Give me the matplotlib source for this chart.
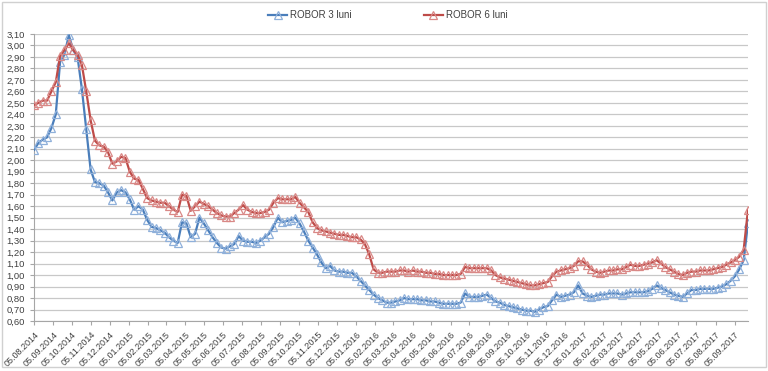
import matplotlib
matplotlib.use("Agg")
import matplotlib.pyplot as plt
import pandas as pd
import numpy as np

start_date = "2014-08-05"
n_weeks = 165

robor_3m = [
    2.09, 2.15, 2.18, 2.20, 2.28, 2.40, 2.86, 2.92, 3.09, 2.96,
    2.90, 2.62, 2.27, 1.92, 1.81, 1.80, 1.78, 1.72, 1.65, 1.72,
    1.74, 1.72, 1.66, 1.57, 1.60, 1.57, 1.48, 1.42, 1.41, 1.39,
    1.37, 1.33, 1.30, 1.28, 1.46, 1.45, 1.33, 1.36, 1.50, 1.45,
    1.39, 1.33, 1.28, 1.24, 1.23, 1.25, 1.27, 1.34, 1.30, 1.29,
    1.29, 1.28, 1.30, 1.33, 1.36, 1.42, 1.50, 1.46, 1.47, 1.48,
    1.50, 1.45, 1.38, 1.30, 1.24, 1.18, 1.11, 1.06, 1.08, 1.04,
    1.03, 1.03, 1.02, 1.02, 0.99, 0.95, 0.91, 0.87, 0.83, 0.80,
    0.78, 0.76, 0.76, 0.77, 0.78, 0.80, 0.79, 0.79, 0.79, 0.78,
    0.78, 0.77, 0.77, 0.76, 0.75, 0.75, 0.75, 0.75, 0.76, 0.84,
    0.81, 0.81, 0.81, 0.82, 0.83, 0.80, 0.77, 0.76, 0.74, 0.73,
    0.72, 0.71, 0.70, 0.69, 0.69, 0.68, 0.70, 0.72, 0.73, 0.78,
    0.83, 0.81, 0.82, 0.83, 0.85, 0.91, 0.84, 0.82, 0.81, 0.82,
    0.83, 0.83, 0.84, 0.84, 0.84, 0.83, 0.84, 0.85, 0.85, 0.85,
    0.85, 0.86, 0.88, 0.91, 0.89, 0.87, 0.85, 0.83, 0.82, 0.81,
    0.84, 0.87, 0.87, 0.88, 0.88, 0.88, 0.88, 0.89, 0.90, 0.92,
    0.95, 0.99, 1.05, 1.13, 1.45,
]

robor_6m = [
    2.48, 2.50, 2.52, 2.52, 2.60, 2.68, 2.91, 2.96, 3.02, 2.96,
    2.92, 2.83, 2.60, 2.35, 2.17, 2.13, 2.12, 2.07, 1.97, 1.99,
    2.03, 2.02, 1.90, 1.84, 1.83, 1.75, 1.67, 1.65, 1.64, 1.63,
    1.63, 1.60, 1.57, 1.55, 1.70, 1.69, 1.56, 1.60, 1.64, 1.62,
    1.60, 1.57, 1.54, 1.52, 1.51, 1.51, 1.54, 1.57, 1.61, 1.57,
    1.55, 1.54, 1.54, 1.55, 1.57, 1.63, 1.67, 1.66, 1.66, 1.66,
    1.68, 1.63, 1.59, 1.55, 1.46, 1.41, 1.39, 1.38, 1.37, 1.36,
    1.35, 1.35, 1.34, 1.33, 1.33, 1.31, 1.27, 1.18, 1.05, 1.02,
    1.02, 1.03, 1.03, 1.03, 1.04, 1.04, 1.03, 1.04, 1.03, 1.03,
    1.02, 1.02, 1.01, 1.01, 1.00, 1.00, 1.00, 1.00, 1.01, 1.07,
    1.06, 1.06, 1.06, 1.06, 1.06, 1.04, 1.00, 0.98, 0.97, 0.96,
    0.95, 0.94, 0.93, 0.92, 0.91, 0.91, 0.92, 0.93, 0.94, 0.99,
    1.03, 1.04, 1.05, 1.06, 1.08, 1.12, 1.12, 1.09, 1.05, 1.03,
    1.02, 1.03, 1.04, 1.04, 1.05, 1.05, 1.07, 1.09, 1.08, 1.08,
    1.09, 1.10, 1.11, 1.13, 1.10, 1.07, 1.05, 1.03, 1.01, 1.00,
    1.02, 1.03, 1.03, 1.04, 1.04, 1.04, 1.05, 1.06, 1.07, 1.09,
    1.11, 1.13, 1.16, 1.22, 1.57,
]

series_names = ["ROBOR 3 luni", "ROBOR 6 luni"]

dates = pd.date_range(start_date, periods=n_weeks, freq="7D")
tick_dates = pd.date_range("2014-08-01", "2017-09-01", freq="MS") + pd.Timedelta(days=4)

plt.rcParams["font.family"] = ["Liberation Sans", "DejaVu Sans"]

fig = plt.figure(figsize=(7.68, 3.71), dpi=100)
ax = fig.add_axes([34 / 768, 1 - 321 / 371, 714 / 768, 287 / 371])

line_cols = ["#4A7EBB", "#BE4B48"]
mk_cols = ["#8FB0DA", "#D98886"]
for vals, name, lc, mc in zip([robor_3m, robor_6m], series_names, line_cols, mk_cols):
    ax.plot(dates, vals, color=lc, lw=1.6, marker="^", markersize=5.5,
            markerfacecolor="none", markeredgecolor=mc, markeredgewidth=0.9,
            label=name, zorder=3)

ax.set_ylim(0.60, 3.10)
ax.set_yticks(np.round(np.arange(0.60, 3.101, 0.10), 2))
ax.yaxis.set_major_formatter(matplotlib.ticker.FuncFormatter(lambda v, p: f"{v:.2f}".replace(".", ",")))
ax.set_xlim(dates[0], dates[-1])
ax.set_xticks(tick_dates)
ax.set_xticklabels([d.strftime("%d.%m.%Y") for d in tick_dates], rotation=45,
                   ha="right", rotation_mode="anchor")

ax.grid(axis="y", color="#C8C8C8", lw=0.9)
ax.grid(axis="x", visible=False)
for s in ["top", "right"]:
    ax.spines[s].set_visible(False)
ax.spines["left"].set_color("#A6A6A6")
ax.spines["bottom"].set_color("#A6A6A6")
ax.tick_params(axis="x", labelsize=6.5, colors="#404040", length=3, width=0.8)
ax.tick_params(axis="y", labelsize=6.8, colors="#404040", length=3, width=0.8)
ax.tick_params(axis="both", color="#A6A6A6")

fig.legend(loc="center", bbox_to_anchor=(0.505, 1 - 15 / 371), ncol=2, frameon=False,
           fontsize=7, columnspacing=7.5, handlelength=1.9, handletextpad=0.3,
           labelcolor="#404040")

fig.patches.append(matplotlib.patches.Rectangle((0.002, 0.01), 0.996, 0.985, transform=fig.transFigure,
                                                fill=False, edgecolor="#D0D0D0", lw=1))
fig.savefig("out.png", dpi=100)
